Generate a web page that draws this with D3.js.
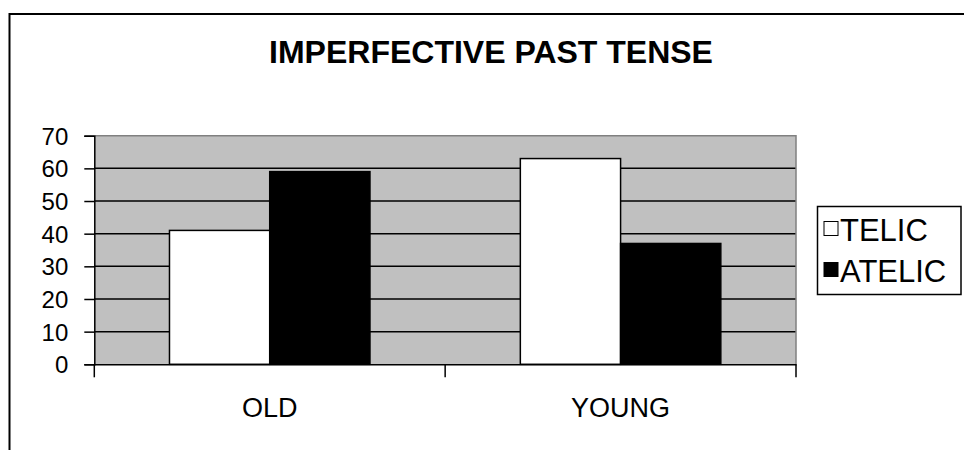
<!DOCTYPE html>
<html>
<head>
<meta charset="utf-8">
<script src="https://cdn.jsdelivr.net/npm/d3@7/dist/d3.min.js"></script>
<style>
  html, body { margin: 0; padding: 0; background: #ffffff; }
  svg { display: block; }
  text { font-family: "Liberation Sans", Arial, sans-serif; fill: #000; }
</style>
</head>
<body>
<svg id="chart" width="964" height="450"></svg>
<script>
// ---- data ----
const categories = ["OLD", "YOUNG"];
const seriesNames = ["TELIC", "ATELIC"];
const telicValues = [41, 63];
const atelicValues = [59, 37];
const yTicks = [0, 10, 20, 30, 40, 50, 60, 70];
const titleText = "IMPERFECTIVE PAST TENSE";

const seriesFill = { "TELIC": "#ffffff", "ATELIC": "#000000" };
const seriesValues = { "TELIC": telicValues, "ATELIC": atelicValues };

const svg = d3.select("#chart");

// outer chart border (extends off canvas at right/bottom)
svg.append("rect")
  .attr("x", 9.5).attr("y", 14)
  .attr("width", 1000).attr("height", 500)
  .attr("fill", "#fff").attr("stroke", "#000").attr("stroke-width", 2);

const plot = { left: 94.3, right: 796, top: 135.7, bottom: 364.3 };

const x = d3.scaleBand().domain(categories).range([plot.left, plot.right]).paddingInner(0).paddingOuter(0);
const xInner = d3.scaleBand().domain(seriesNames).range([0, x.bandwidth()]).paddingInner(0).paddingOuter(0.75);
const y = d3.scaleLinear().domain([0, 70]).range([plot.bottom, plot.top]);

// plot background
svg.append("rect")
  .attr("x", plot.left).attr("y", plot.top)
  .attr("width", plot.right - plot.left).attr("height", plot.bottom - plot.top)
  .attr("fill", "#c0c0c0");

// gridlines
svg.append("g").selectAll("line")
  .data(yTicks.filter(t => t > 0 && t < 70))
  .join("line")
  .attr("x1", plot.left).attr("x2", plot.right)
  .attr("y1", d => y(d)).attr("y2", d => y(d))
  .attr("stroke", "#000").attr("stroke-width", 1.5);

// plot border top & right (gray)
svg.append("path")
  .attr("d", `M${plot.left},${plot.top}H${plot.right}V${plot.bottom}`)
  .attr("fill", "none").attr("stroke", "#808080").attr("stroke-width", 1.5);

// bars
const flat = [];
categories.forEach((c, i) => seriesNames.forEach(s => flat.push({ cat: c, series: s, value: seriesValues[s][i] })));
svg.append("g").selectAll("rect")
  .data(flat)
  .join("rect")
  .attr("x", d => x(d.cat) + xInner(d.series))
  .attr("y", d => y(d.value))
  .attr("width", xInner.bandwidth())
  .attr("height", d => y(0) - y(d.value))
  .attr("fill", d => seriesFill[d.series])
  .attr("stroke", "#000").attr("stroke-width", 1.5);

// y axis
const yAxis = d3.axisLeft(y).tickValues(yTicks).tickSize(10).tickPadding(16).tickFormat(d3.format("d"));
const gy = svg.append("g").attr("transform", `translate(${plot.left},0)`).call(yAxis);
gy.select(".domain").attr("stroke", "#000").attr("stroke-width", 1.5);
gy.selectAll(".tick line").attr("stroke", "#000").attr("stroke-width", 1.5);
gy.selectAll(".tick text").attr("font-size", 24).attr("font-family", "Liberation Sans, Arial, sans-serif").attr("dy", "0.36em");

// x axis
const xAxis = d3.axisBottom(x).tickSize(0).tickPadding(34);
const gx = svg.append("g").attr("transform", `translate(0,${plot.bottom})`).call(xAxis);
gx.select(".domain").attr("stroke", "#000").attr("stroke-width", 1.5);
gx.selectAll(".tick text").attr("font-size", 27).attr("font-family", "Liberation Sans, Arial, sans-serif");
// category boundary ticks
const bounds = [plot.left].concat(categories.map(c => x(c) + x.bandwidth()));
gx.selectAll(".bound").data(bounds).join("line")
  .attr("class", "bound")
  .attr("x1", d => d).attr("x2", d => d)
  .attr("y1", 0).attr("y2", 13)
  .attr("stroke", "#000").attr("stroke-width", 1.5);

// title
svg.append("text")
  .attr("x", 491).attr("y", 63)
  .attr("text-anchor", "middle")
  .attr("font-size", 32).attr("font-weight", "bold")
  .text(titleText);

// legend
const lg = svg.append("g");
lg.append("rect")
  .attr("x", 817.5).attr("y", 206.5).attr("width", 143.5).attr("height", 88)
  .attr("fill", "#fff").attr("stroke", "#000").attr("stroke-width", 1.5);
const items = lg.selectAll("g.item").data(seriesNames).join("g")
  .attr("class", "item")
  .attr("transform", (d, i) => `translate(0,${i * 41})`);
items.append("rect")
  .attr("x", 824).attr("y", 221.5).attr("width", 14).attr("height", 14)
  .attr("fill", d => seriesFill[d]).attr("stroke", "#000").attr("stroke-width", 1);
items.append("text")
  .attr("x", 840).attr("y", 241)
  .attr("font-size", 31)
  .text(d => d);
</script>
</body>
</html>
